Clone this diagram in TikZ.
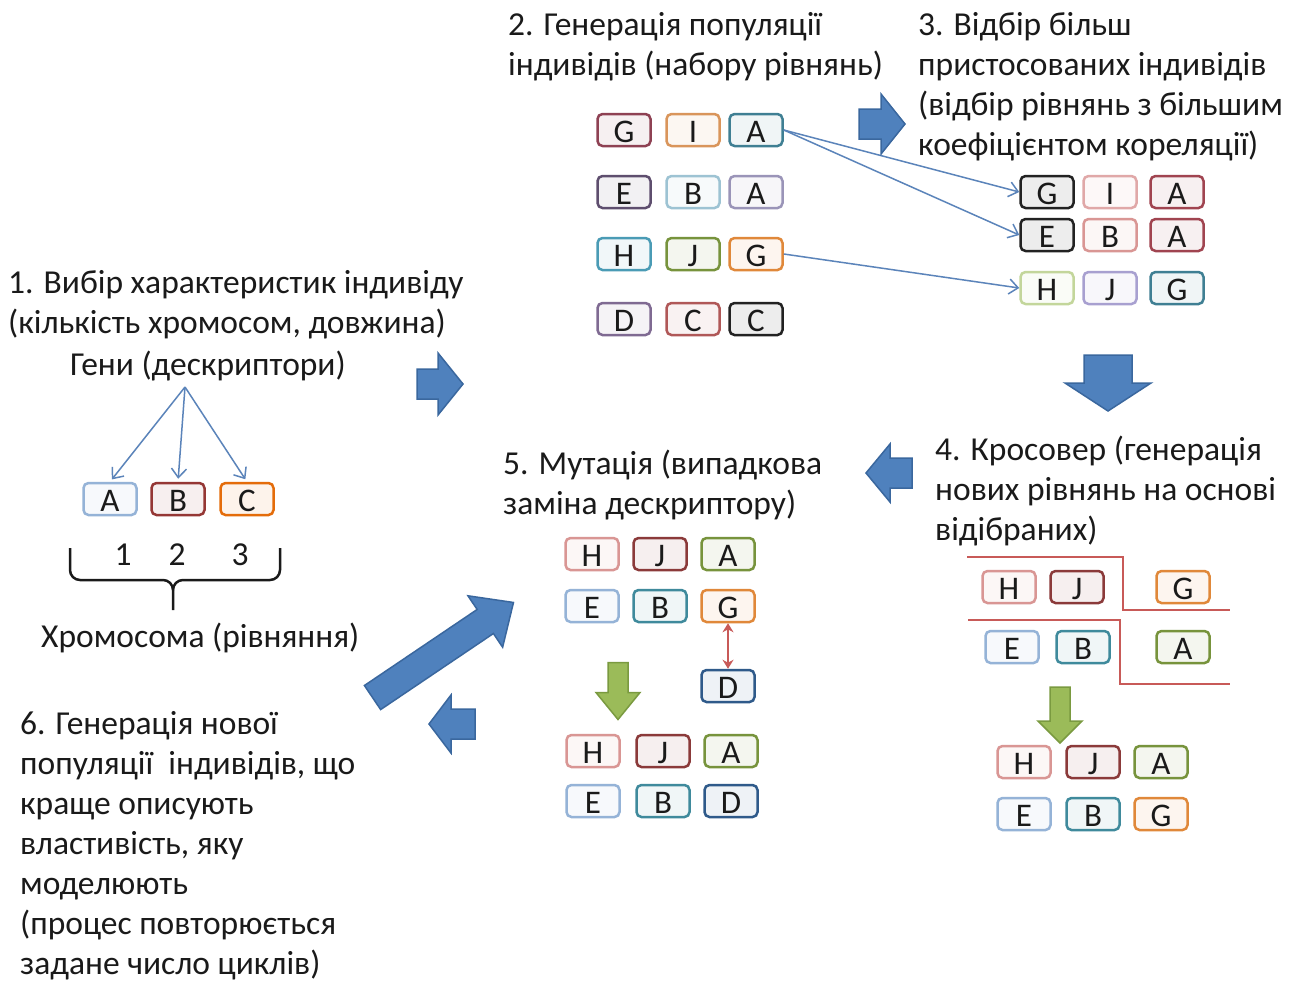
\documentclass[tikz,border=0pt]{standalone}
\usepackage{fontspec}
\setmainfont{Carlito}
\usetikzlibrary{arrows.meta}
\definecolor{txtc}{HTML}{1A1A1A}
\definecolor{linec}{HTML}{5B84BA}
\definecolor{blockfill}{HTML}{4F81BD}
\definecolor{blockdraw}{HTML}{3A679E}
\definecolor{greenfill}{HTML}{9BBB59}
\definecolor{greendraw}{HTML}{7A9A40}
\definecolor{redc}{HTML}{C85A58}
% box colours
\definecolor{cMauve}{HTML}{8E4153}
\definecolor{cLOrange}{HTML}{D9955B}
\definecolor{cTeal}{HTML}{3F7F93}
\definecolor{cDPurple}{HTML}{5E4E6E}
\definecolor{cLBlue}{HTML}{9DC3D3}
\definecolor{cLav}{HTML}{9A94B8}
\definecolor{cTealB}{HTML}{4A9BB5}
\definecolor{cGreen}{HTML}{77933C}
\definecolor{cOrange}{HTML}{E0883A}
\definecolor{cPurple}{HTML}{7F6A92}
\definecolor{cRed}{HTML}{B05858}
\definecolor{cBlack}{HTML}{222222}
\definecolor{cPinkL}{HTML}{E0A8A8}
\definecolor{cDRed}{HTML}{A04450}
\definecolor{cLGreen}{HTML}{C3D69B}
\definecolor{cLLav}{HTML}{A8A0D0}
\definecolor{cPink}{HTML}{D99694}
\definecolor{cDRed2}{HTML}{8B3A3A}
\definecolor{cSky}{HTML}{95B3D7}
\definecolor{cTeal2}{HTML}{3F8A9C}
\definecolor{cNavy}{HTML}{2F5A8A}
\definecolor{cOrange2}{HTML}{E46C0A}
\definecolor{cDRed3}{HTML}{953735}

\tikzset{
  txt/.style={font=\fontsize{33.5pt}{40pt}\selectfont, inner sep=0pt, align=left, anchor=base west, text=txtc},
  gbox/.style={draw=#1, fill=#1!8, line width=2.5pt, rounded corners=5pt,
    minimum width=53pt, minimum height=32pt, inner sep=0pt,
    text height=25pt, text depth=0pt, font=\fontsize{33pt}{33pt}\selectfont, text=txtc},
  conn/.style={draw=linec, line width=1.5pt, -{Straight Barb[length=9pt,width=15pt]}},
  barrow/.style={fill=blockfill, draw=blockdraw, line width=1.5pt, line join=miter},
  garrow/.style={fill=greenfill, draw=greendraw, line width=1.5pt, line join=miter},
  redl/.style={draw=redc, line width=2.5pt},
}
% block arrow: x, y, angle, length, shaft width, head width, head length, style
\newcommand\blkarrow[8]{%
  \draw[#8, shift={(#1,#2)}, rotate=#3]
    ({-#4/2},{-#5/2}) -- ({#4/2-#7},{-#5/2}) -- ({#4/2-#7},{-#6/2}) --
    ({#4/2},0) -- ({#4/2-#7},{#6/2}) -- ({#4/2-#7},{#5/2}) -- ({-#4/2},{#5/2}) -- cycle;}

\begin{document}
\begin{tikzpicture}[x=1pt,y=-1pt]
\useasboundingbox[fill=white] (0,0) rectangle (1297,983);

% ---------- texts (anchor = baseline of the last line) ----------
\node[txt] (t1) at (8,333) {1. Вибір характеристик індивіду\\(кількість хромосом, довжина)};
\node[txt] (tgeni) at (70,375) {Гени (дескриптори)};
\node[txt] (tchrom) at (41,647) {Хромосома (рівняння)};
\node[txt] (t2) at (508,75) {2. Генерація популяції\\індивідів (набору рівнянь)};
\node[txt] (t3) at (918,155) {3. Відбір більш\\пристосованих індивідів\\(відбір рівнянь з більшим\\коефіцієнтом кореляції)};
\node[txt] (t4) at (935,540) {4. Кросовер (генерація\\нових рівнянь на основі\\відібраних)};
\node[txt] (t5) at (503,514) {5. Мутація (випадкова\\заміна дескриптору)};
\node[txt] (t6) at (20,974) {6. Генерація нової\\популяції\ \ індивідів, що\\краще описують\\властивість, яку\\моделюють\\(процес повторюється\\задане число циклів)};

% ---------- block 1 ----------
\node[gbox=cSky] (g1) at (110,499) {A};
\node[gbox=cDRed3] (g2) at (178,499) {B};
\node[gbox=cOrange2] (g3) at (247,499) {C};
\coordinate (gsrc) at (185,387);
\draw[conn, shorten >=3pt] (gsrc) -- (g1.north);
\draw[conn, shorten >=3pt] (gsrc) -- (g2.north);
\draw[conn, shorten >=3pt] (gsrc) -- (g3.north);
\node[txt, anchor=base] (n1) at (123,565) {1};
\node[txt, anchor=base] (n2) at (177,565) {2};
\node[txt, anchor=base] (n3) at (240,565) {3};
\draw[line width=2.5pt, draw=txtc] (70,548) -- (70,570) to[out=-90,in=180] (80,580) -- (163,580)
  to[out=0,in=90] (173,590) -- (173,610);
\draw[line width=2.5pt, draw=txtc] (173,590) to[out=90,in=180] (183,580) -- (270,580)
  to[out=0,in=-90] (280,570) -- (280,548);

% ---------- population ----------
\node[gbox=cMauve] (p11) at (624,130) {G};
\node[gbox=cLOrange] (p12) at (693,130) {I};
\node[gbox=cTeal] (p13) at (756,130) {A};
\node[gbox=cDPurple] (p21) at (624,192) {E};
\node[gbox=cLBlue] (p22) at (693,192) {B};
\node[gbox=cLav] (p23) at (756,192) {A};
\node[gbox=cTealB] (p31) at (624,254) {H};
\node[gbox=cGreen] (p32) at (693,254) {J};
\node[gbox=cOrange] (p33) at (756,254) {G};
\node[gbox=cPurple] (p41) at (624,319) {D};
\node[gbox=cRed] (p42) at (693,319) {C};
\node[gbox=cBlack] (p43) at (756,319) {C};

% ---------- selected ----------
\node[gbox=cBlack] (s11) at (1047,192) {G};
\node[gbox=cPinkL] (s12) at (1110,192) {I};
\node[gbox=cDRed] (s13) at (1177,192) {A};
\node[gbox=cBlack] (s21) at (1047,235) {E};
\node[gbox=cPink] (s22) at (1110,235) {B};
\node[gbox=cDRed] (s23) at (1177,235) {A};
\node[gbox=cLGreen] (s31) at (1047,288) {H};
\node[gbox=cLLav] (s32) at (1110,288) {J};
\node[gbox=cTeal] (s33) at (1177,288) {G};
\draw[conn] (p13.east) -- (s11.west);
\draw[conn] (p13.east) -- (s21.west);
\draw[conn] (p33.east) -- (s31.west);

% ---------- crossover ----------
\draw[redl] (967,557) -- (1123,557) -- (1123,610) -- (1230,610);
\draw[redl] (968,620) -- (1120,620) -- (1120,684) -- (1230,684);
\node[gbox=cPink] (c11) at (1009,587) {H};
\node[gbox=cDRed2] (c12) at (1077,587) {J};
\node[gbox=cOrange] (c13) at (1183,587) {G};
\node[gbox=cSky] (c21) at (1012,647) {E};
\node[gbox=cTeal2] (c22) at (1083,647) {B};
\node[gbox=cGreen] (c23) at (1183,647) {A};
\node[gbox=cPink] (r11) at (1024,762) {H};
\node[gbox=cDRed2] (r12) at (1093,762) {J};
\node[gbox=cGreen] (r13) at (1161,762) {A};
\node[gbox=cSky] (r21) at (1024,814) {E};
\node[gbox=cTeal2] (r22) at (1093,814) {B};
\node[gbox=cOrange] (r23) at (1161,814) {G};

% ---------- mutation ----------
\node[gbox=cPink] (m11) at (592,554) {H};
\node[gbox=cDRed2] (m12) at (660,554) {J};
\node[gbox=cGreen] (m13) at (728,554) {A};
\node[gbox=cSky] (m21) at (592,606) {E};
\node[gbox=cTeal2] (m22) at (660,606) {B};
\node[gbox=cOrange] (m23) at (728,606) {G};
\node[gbox=cNavy] (md) at (728,686) {D};
\draw[redl, {Stealth[length=9pt,width=11pt]}-{Stealth[length=9pt,width=11pt]}] (m23.south) -- (md.north);
\node[gbox=cPink] (n11) at (593,751) {H};
\node[gbox=cDRed2] (n12) at (663,751) {J};
\node[gbox=cGreen] (n13) at (731,751) {A};
\node[gbox=cSky] (n21) at (593,801) {E};
\node[gbox=cTeal2] (n22) at (663,801) {B};
\node[gbox=cNavy] (n23) at (731,801) {D};

% ---------- block arrows ----------
\blkarrow{440}{384}{0}{46}{30}{62}{25}{barrow}
\blkarrow{882}{124}{0}{46}{30}{60}{24}{barrow}
\blkarrow{1108}{383}{-90}{56}{48}{86}{28}{barrow}
\blkarrow{889}{473}{180}{46}{30}{58}{24}{barrow}
\blkarrow{443}{650}{34}{170}{29}{62}{34}{barrow}
\blkarrow{452}{724}{180}{46}{30}{58}{22}{barrow}
\blkarrow{1060}{715}{-90}{56}{20}{44}{22}{garrow}
\blkarrow{618}{691}{-90}{57}{20}{44}{27}{garrow}
\end{tikzpicture}
\end{document}
